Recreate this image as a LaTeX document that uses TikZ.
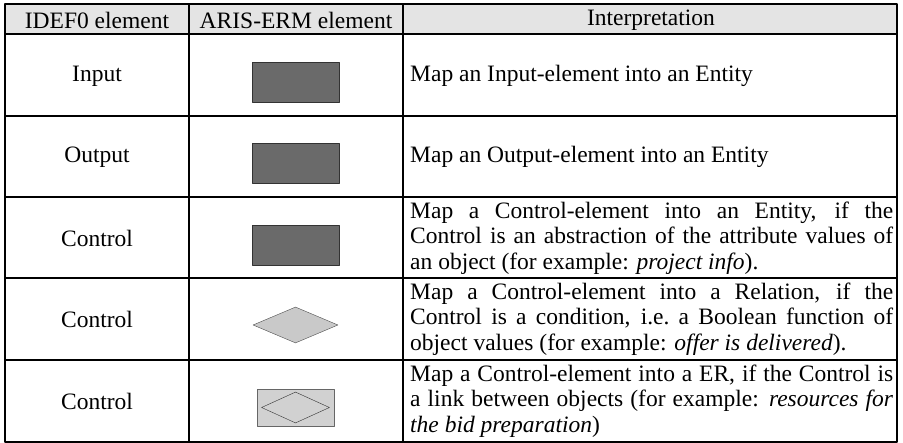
\documentclass[tikz,border=0pt]{standalone}
\usepackage{fontspec}
\setmainfont{Liberation Serif}
\usetikzlibrary{shapes.geometric}
\definecolor{headgray}{HTML}{E4E4E4}
\definecolor{entgray}{HTML}{6A6A6A}
\definecolor{relgray}{HTML}{C9C9C9}
\newcommand{\cellfont}{\fontsize{23.5}{25.7}\selectfont}
\newcommand{\jline}[1]{\makebox[483pt][s]{#1}}
\begin{document}
\begin{tikzpicture}[x=1pt,y=-1pt,line join=round,font=\cellfont,
	entity/.style={draw=black!80,fill=entgray,minimum width=87pt,minimum height=40pt,inner sep=0pt},
	relation/.style={diamond,draw=black!70,fill=relgray,minimum width=85pt,minimum height=36pt,inner sep=0pt},
	txt/.style={inner sep=0pt,anchor=west,align=left}]
	\def\xa{5} \def\xb{189} \def\xc{403} \def\xd{897} \def\ya{4} \def\yb{442}
	\useasboundingbox (0,0) rectangle (903,443);
	\fill[headgray] (\xa,\ya) rectangle (\xd,34);
	% header
	\node (h1) at (97,20) {IDEF0 element};
	\node (h2) at (296,20) {ARIS-ERM element};
	\node (h3) at (651,20) {Interpretation};
	% IDEF0 column
	\foreach \y/\n/\s in {76/1/Input,157/2/Output,238/3/Control,319.5/4/Control,401/5/Control}
		\node (i\n) at (97,\y) {\s};
	% ARIS-ERM column
	\node[entity] (e1) at (295.5,82) {};
	\node[entity] (e2) at (295.5,163.5) {};
	\node[entity] (e3) at (295.5,245.5) {};
	\node[relation] (e4) at (295.5,325) {};
	\node[draw=black!60,fill=relgray!85,minimum width=77pt,minimum height=37pt,inner sep=0pt] (e5) at (295.5,407.5) {};
	\node[diamond,draw=black!80,minimum width=68pt,minimum height=31pt,inner sep=0pt] (e5d) at (e5) {};
	% interpretation column
	\node[txt] (t1) at (410,76) {Map an Input-element into an Entity};
	\node[txt] (t2) at (410,157) {Map an Output-element into an Entity};
	\node[txt] (t3) at (410,238) {\jline{Map a Control-element into an Entity, if the}\\
		\jline{Control is an abstraction of the attribute values of}\\
		an object (for example: \textit{project info}).};
	\node[txt] (t4) at (410,319) {\jline{Map a Control-element into a Relation, if the}\\
		\jline{Control is a condition, i.e.\ a Boolean function of}\\
		object values (for example: \textit{offer is delivered}).};
	\node[txt] (t5) at (410,401) {\jline{Map a Control-element into a ER, if the Control is}\\
		\jline{a link between objects (for example: \textit{resources for}}\\
		\textit{the bid preparation})};
	% grid
	\foreach \y in {34,116,197,278,360} \draw[line width=1.5pt] (\xa,\y)--(\xd,\y);
	\draw[line width=1.5pt] (\xb,\ya)--(\xb,\yb) (\xc,\ya)--(\xc,\yb);
	\draw[line width=2pt] (\xa,\ya) rectangle (\xd,\yb);
\end{tikzpicture}
\end{document}
